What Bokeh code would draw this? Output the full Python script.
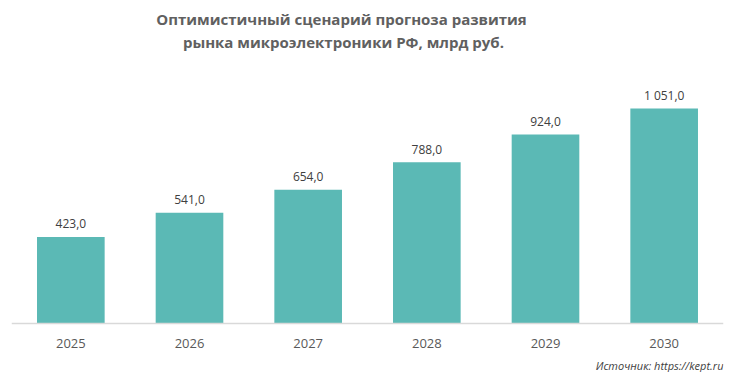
from bokeh.plotting import figure
from bokeh.models import ColumnDataSource, Label, Range1d, FactorRange
from bokeh.embed import file_html
from bokeh.resources import INLINE
from bokeh.core.properties import value

years = ["2025", "2026", "2027", "2028", "2029", "2030"]
values = [423.0, 541.0, 654.0, 788.0, 924.0, 1051.0]
value_labels = ["423,0", "541,0", "654,0", "788,0", "924,0", "1 051,0"]
title_lines = ["Оптимистичный  сценарий  прогноза  развития",
               "рынка  микроэлектроники  РФ, млрд руб."]
source_text = "Источник: https://kept.ru"

BAR = "#5BB9B5"
FONT = "Open Sans"
S = 0.2045          # px per unit
AXIS_Y = 323        # px from top of canvas
H = 372

src = ColumnDataSource(dict(x=years, top=values, lab=value_labels,
                            ly=[v + 13 / S for v in values]))

p = figure(x_range=FactorRange(*years, range_padding=0),
           y_range=Range1d(-(H - AXIS_Y) / S, AXIS_Y / S),
           width=727, height=H, output_backend="svg", toolbar_location=None,
           min_border_left=11, min_border_right=4, min_border_top=0, min_border_bottom=0)
p.outline_line_color = None
p.grid.grid_line_color = None
p.yaxis.visible = False
p.background_fill_color = "white"
p.border_fill_color = "white"

p.vbar(x="x", top="top", width=0.57, source=src, color=BAR, line_color=None)

p.text(x="x", y="ly", text="lab", source=src, text_align="center", text_baseline="middle",
       text_font=value(FONT), text_font_size="12px", text_color="#404040")

xa = p.xaxis[0]
xa.fixed_location = 0
xa.axis_line_color = "#D9D9D9"
xa.axis_line_width = 1.5
xa.major_tick_line_color = None
xa.minor_tick_line_color = None
xa.major_label_text_font = FONT
xa.major_label_text_font_size = "13px"
xa.major_label_text_color = "#595959"
xa.major_label_standoff = 9

for t, yp in zip(title_lines, [18, 41]):
    p.add_layout(Label(x=2.83, y=(AXIS_Y - yp) / S, text=t, text_align="center",
                       text_baseline="middle", text_font=FONT, text_font_size="15px",
                       text_font_style="bold", text_color="#606060"))

p.add_layout(Label(x=6.0, y=(AXIS_Y - 365) / S, text=source_text, text_align="right",
                   text_baseline="middle", text_font=FONT, text_font_size="11px",
                   text_font_style="italic", text_color="#404040"))

open("out.html", "w").write(file_html(p, INLINE))
